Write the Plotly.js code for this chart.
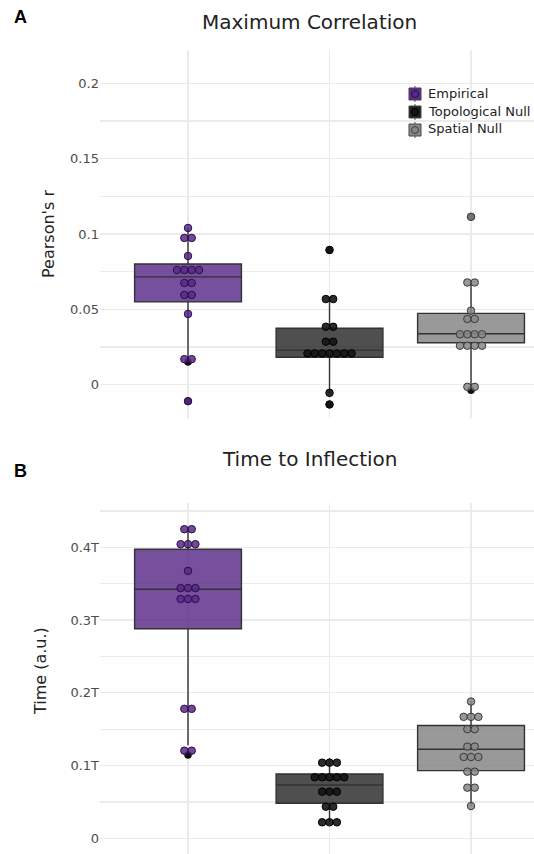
<!DOCTYPE html>
<html>
<head>
<meta charset="utf-8">
<script src="https://cdn.plot.ly/plotly-3.0.1.min.js"></script>
<style>html,body{margin:0;padding:0;background:#fff;overflow:hidden;}#chart{width:534px;height:854px;}</style>
</head>
<body>
<div id="chart"></div>
<script>
// ---------- data ----------
const groups = ['Empirical', 'Topological Null', 'Spatial Null'];
const groupPos = [0, 1, 2];

// Panel A: maximum correlation (Pearson's r), individual values
const corrEmpirical = [0.104, 0.0974, 0.0974, 0.0854, 0.0761, 0.0761, 0.0761, 0.0761,
                       0.0675, 0.0675, 0.0595, 0.0595, 0.0469, 0.0169, 0.0169, -0.011];
const corrTopological = [0.0894, 0.0568, 0.0568, 0.0384, 0.0384, 0.0285, 0.0285,
                         0.0207, 0.0207, 0.0207, 0.0207, 0.0207, 0.0207, 0.0207, -0.0055, -0.0132];
const corrSpatial = [0.1114, 0.0678, 0.0678, 0.0491, 0.0436, 0.0436, 0.0334, 0.0334,
                     0.0334, 0.0334, 0.0258, 0.0258, 0.0258, 0.0258, -0.0015, -0.0015];
// dark (outlier) points
const corrOutlierX = [0, 0, 1, 1, 2, 2];
const corrOutlierY = [-0.011, 0.015, 0.0894, -0.0132, 0.1114, -0.0037];
// box statistics [Empirical, Topological, Spatial]
const corrQ1 = [0.0549, 0.0181, 0.0278];
const corrMedian = [0.0715, 0.0229, 0.0338];
const corrQ3 = [0.0801, 0.0374, 0.0473];
const corrLower = [0.0163, -0.0057, -0.003];
const corrUpper = [0.104, 0.0582, 0.0682];

// Panel B: time to inflection (units of T)
const timeEmpirical = [0.425, 0.425, 0.4044, 0.4044, 0.4044, 0.3677, 0.344, 0.344, 0.344,
                       0.329, 0.329, 0.329, 0.178, 0.178, 0.1205, 0.1205];
const timeTopological = [0.104, 0.104, 0.104, 0.0839, 0.0839, 0.0839, 0.0839, 0.0839,
                         0.0641, 0.0641, 0.0641, 0.0435, 0.0435, 0.022, 0.022, 0.022];
const timeSpatial = [0.188, 0.167, 0.167, 0.167, 0.15, 0.15, 0.126, 0.126, 0.1118, 0.1118,
                     0.1118, 0.0916, 0.0916, 0.0696, 0.0696, 0.0444];
const timeOutlierX = [0];
const timeOutlierY = [0.1146];
const timeQ1 = [0.288, 0.0481, 0.093];
const timeMedian = [0.3425, 0.0733, 0.1224];
const timeQ3 = [0.3975, 0.0884, 0.155];
const timeLower = [0.128, 0.022, 0.0444];
const timeUpper = [0.4255, 0.110, 0.1884];

const corrTickVals = [0, 0.025, 0.05, 0.075, 0.1, 0.125, 0.15, 0.175, 0.2];
const corrTickText = ['0', '', '0.05', '', '0.1', '', '0.15', '', '0.2'];
const timeTickVals = [0, 0.05, 0.1, 0.15, 0.2, 0.25, 0.3, 0.35, 0.4, 0.45];
const timeTickText = ['0', '', '0.1T', '', '0.2T', '', '0.3T', '', '0.4T', ''];

// ---------- styling ----------
const boxFill = ['rgba(80,30,130,0.78)', 'rgba(35,35,35,0.8)', 'rgba(128,128,128,0.8)'];
const dotFill = ['rgba(88,40,140,0.85)', 'rgba(20,20,20,0.9)', 'rgba(135,135,135,0.85)'];
const dotLine = ['#2a1045', '#000000', '#3a3a3a'];
const legendFill = ['#5a2b8e', '#222222', '#8a8a8a'];
const DX = 0.052; // horizontal dot spacing in category units

function stackDots(values, pos) {
  const counts = {};
  values.forEach(v => { counts[v] = (counts[v] || 0) + 1; });
  const seen = {};
  const xs = [], ys = [];
  values.forEach(v => {
    const n = counts[v];
    const i = seen[v] || 0;
    seen[v] = i + 1;
    xs.push(pos + (i - (n - 1) / 2) * DX);
    ys.push(v);
  });
  return {xs, ys};
}

const traces = [];
function addPanel(series, q1, med, q3, lo, hi, outX, outY, xa, ya) {
  traces.push({type: 'scatter', mode: 'markers', x: outX, y: outY, xaxis: xa, yaxis: ya,
    showlegend: false, hoverinfo: 'skip',
    marker: {size: 7.5, color: '#111', line: {width: 0}}});
  groups.forEach((g, k) => {
    traces.push({type: 'box', name: g, x: [groupPos[k]], q1: [q1[k]], median: [med[k]], q3: [q3[k]],
      lowerfence: [lo[k]], upperfence: [hi[k]], width: 0.755, whiskerwidth: 0,
      boxpoints: false, fillcolor: boxFill[k], line: {color: '#333333', width: 1.4},
      xaxis: xa, yaxis: ya, showlegend: false});
  });
  series.forEach((vals, k) => {
    const d = stackDots(vals, groupPos[k]);
    traces.push({type: 'scatter', mode: 'markers', x: d.xs, y: d.ys, xaxis: xa, yaxis: ya,
      showlegend: false, hoverinfo: 'skip',
      marker: {size: 7.5, color: dotFill[k], line: {width: 1, color: dotLine[k]}}});
  });
}

addPanel([corrEmpirical, corrTopological, corrSpatial], corrQ1, corrMedian, corrQ3, corrLower, corrUpper,
  corrOutlierX, corrOutlierY, 'x', 'y');
addPanel([timeEmpirical, timeTopological, timeSpatial], timeQ1, timeMedian, timeQ3, timeLower, timeUpper,
  timeOutlierX, timeOutlierY, 'x2', 'y2');

const W = 534, H = 854;
const font = 'DejaVu Sans, Verdana, sans-serif';
const px = x => x / W;
const py = y => (H - y) / H;

// manual legend (keeps the plot area full width)
const shapes = [];
const annotations = [];
const legendRowY = [94, 112, 130];
groups.forEach((g, k) => {
  const cy = legendRowY[k];
  shapes.push({type: 'line', xref: 'paper', yref: 'paper', x0: px(415), x1: px(415), y0: py(cy - 8), y1: py(cy + 8),
    line: {color: '#555', width: 1}});
  shapes.push({type: 'rect', xref: 'paper', yref: 'paper', x0: px(409), x1: px(421), y0: py(cy + 6), y1: py(cy - 6),
    fillcolor: legendFill[k], line: {color: '#444', width: 1}});
  shapes.push({type: 'circle', xref: 'paper', yref: 'paper', x0: px(411.5), x1: px(418.5), y0: py(cy + 3.5), y1: py(cy - 3.5),
    fillcolor: dotFill[k], line: {color: dotLine[k], width: 1}});
  annotations.push({text: g, x: px(426), y: py(cy - 1), xref: 'paper', yref: 'paper', xanchor: 'left', yanchor: 'middle',
    showarrow: false, font: {family: font, size: 13, color: '#222'}});
});

annotations.push(
  {text: 'Maximum Correlation', x: px(309), y: py(22), xref: 'paper', yref: 'paper',
    xanchor: 'center', yanchor: 'middle', showarrow: false, font: {family: font, size: 20, color: '#222'}},
  {text: 'Time to Inflection', x: px(310), y: py(459), xref: 'paper', yref: 'paper',
    xanchor: 'center', yanchor: 'middle', showarrow: false, font: {family: font, size: 20, color: '#222'}},
  {text: '<b>A</b>', x: px(20), y: py(17), xref: 'paper', yref: 'paper',
    xanchor: 'center', yanchor: 'middle', showarrow: false, font: {family: 'Liberation Sans, Arial, sans-serif', size: 18, color: '#000'}},
  {text: '<b>B</b>', x: px(20), y: py(471), xref: 'paper', yref: 'paper',
    xanchor: 'center', yanchor: 'middle', showarrow: false, font: {family: 'Liberation Sans, Arial, sans-serif', size: 18, color: '#000'}},
  {text: "Pearson's r", x: px(49), y: py(234), xref: 'paper', yref: 'paper', textangle: -90,
    xanchor: 'center', yanchor: 'middle', showarrow: false, font: {family: font, size: 16, color: '#222'}},
  {text: 'Time (a.u.)', x: px(40), y: py(671), xref: 'paper', yref: 'paper', textangle: -90,
    xanchor: 'center', yanchor: 'middle', showarrow: false, font: {family: font, size: 16, color: '#222'}}
);

const xBase = {
  domain: [px(100), 1], range: [-0.622, 2.445], tickvals: groupPos, showticklabels: false,
  showgrid: true, gridcolor: '#ebebeb', gridwidth: 1.2, zeroline: false, showline: false, ticks: ''
};
const yBase = {
  showgrid: true, gridcolor: '#ebebeb', gridwidth: 1.2, zeroline: false, showline: false, ticks: '',
  tickfont: {family: font, size: 13, color: '#4d4d4d'}
};

const layout = {
  width: W, height: H,
  margin: {l: 0, r: 0, t: 0, b: 0, autoexpand: false},
  paper_bgcolor: '#fff', plot_bgcolor: '#fff',
  font: {family: font},
  showlegend: false,
  xaxis: Object.assign({}, xBase, {anchor: 'y'}),
  yaxis: Object.assign({}, yBase, {domain: [py(418), py(50)], range: [-0.0222, 0.2222],
    tickvals: corrTickVals, ticktext: corrTickText}),
  xaxis2: Object.assign({}, xBase, {anchor: 'y2'}),
  yaxis2: Object.assign({}, yBase, {domain: [0, py(503)], range: [-0.0216, 0.461],
    tickvals: timeTickVals, ticktext: timeTickText}),
  shapes: shapes,
  annotations: annotations
};

Plotly.newPlot('chart', traces, layout, {displayModeBar: false, staticPlot: true});
</script>
</body>
</html>
